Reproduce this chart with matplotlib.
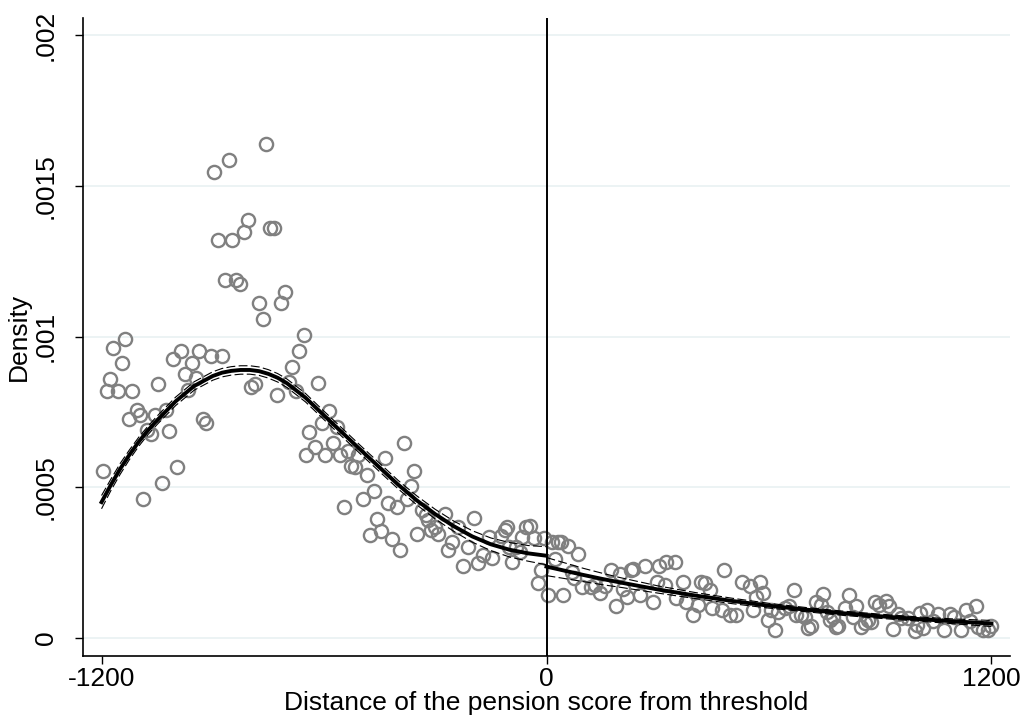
import matplotlib
matplotlib.use("Agg")
import matplotlib.pyplot as plt

plt.rcParams['font.family'] = ['Liberation Sans', 'DejaVu Sans']

# Binned density points (bin midpoint, density)
bin_x = [-1197, -1186, -1176, -1168, -1155, -1146, -1137, -1127, -1117, -1105, -1096, -1087,
         -1077, -1066, -1056, -1047, -1038, -1026, -1017, -1006, -997, -986, -975, -966, -957,
         -945, -936, -926, -917, -905, -896, -887, -876, -868, -857, -847, -837, -827, -816,
         -806, -797, -786, -776, -765, -757, -746, -736, -726, -716, -706, -694, -686, -676,
         -667, -655, -648, -640, -624, -616, -606, -597, -586, -576, -566, -557, -547, -535,
         -526, -517, -508, -496, -485, -476, -465, -456, -445, -436, -427, -417, -404, -395,
         -385, -377, -365, -358, -349, -337, -326, -319, -312, -301, -292, -275, -265, -256,
         -238, -225, -211, -195, -186, -171, -154, -146, -123, -112, -106, -100, -93, -81,
         -72, -65, -54, -45, -34, -23, -14, -6,
         5, 14, 22, 31, 40, 45, 57, 70, 74, 85, 95, 121, 130, 144, 157, 175, 187, 198, 206,
         216, 229, 233, 251, 265, 287, 297, 304, 319, 323, 346, 350, 367, 377, 395, 409, 418,
         427, 440, 445, 472, 480, 494, 512, 526, 548, 557, 566, 575, 584, 597, 606, 615, 624,
         642, 654, 667, 674, 687, 696, 705, 714, 728, 741, 745, 756, 765, 773, 782, 786, 804,
         816, 826, 836, 849, 858, 867, 876, 885, 898, 916, 925, 934, 947, 957, 975, 993, 998,
         1006, 1015, 1026, 1042, 1055, 1073, 1087, 1100, 1117, 1132, 1141, 1157, 1163, 1177,
         1190, 1199]
bin_density = [0.000554, 0.000819, 0.000860, 0.000963, 0.000819, 0.000912, 0.000991, 0.000726,
               0.000819, 0.000756, 0.000739, 0.000460, 0.000689, 0.000676, 0.000739, 0.000844,
               0.000514, 0.000757, 0.000687, 0.000925, 0.000567, 0.000952, 0.000875, 0.000822,
               0.000912, 0.000861, 0.000951, 0.000726, 0.000714, 0.000937, 0.001545, 0.001322,
               0.000937, 0.001188, 0.001586, 0.001322, 0.001189, 0.001176, 0.001348, 0.001388,
               0.000833, 0.000844, 0.001110, 0.001057, 0.001639, 0.001362, 0.001362, 0.000806,
               0.001110, 0.001149, 0.000849, 0.000898, 0.000820, 0.000951, 0.001005, 0.000608,
               0.000684, 0.000634, 0.000845, 0.000713, 0.000607, 0.000753, 0.000647, 0.000698,
               0.000606, 0.000435, 0.000621, 0.000570, 0.000567, 0.000606, 0.000459, 0.000540,
               0.000342, 0.000487, 0.000394, 0.000355, 0.000595, 0.000448, 0.000328, 0.000435,
               0.000291, 0.000647, 0.000459, 0.000503, 0.000554, 0.000344, 0.000424, 0.000407,
               0.000390, 0.000357, 0.000368, 0.000344, 0.000410, 0.000291, 0.000318, 0.000368,
               0.000238, 0.000302, 0.000396, 0.000249, 0.000274, 0.000334, 0.000266, 0.000339,
               0.000357, 0.000369, 0.000302, 0.000252, 0.000302, 0.000285, 0.000335, 0.000367,
               0.000370, 0.000330, 0.000182, 0.000224, 0.000330,
               0.000143, 0.000318, 0.000261, 0.000318, 0.000318, 0.000143, 0.000303, 0.000219,
               0.000197, 0.000277, 0.000169, 0.000169, 0.000174, 0.000147, 0.000171, 0.000224,
               0.000106, 0.000213, 0.000163, 0.000134, 0.000224, 0.000227, 0.000141, 0.000238,
               0.000119, 0.000185, 0.000238, 0.000174, 0.000252, 0.000252, 0.000130, 0.000185,
               0.000119, 0.000075, 0.000108, 0.000185, 0.000180, 0.000158, 0.000097, 0.000091,
               0.000224, 0.000075, 0.000075, 0.000185, 0.000171, 0.000091, 0.000135, 0.000185,
               0.000147, 0.000058, 0.000091, 0.000025, 0.000086, 0.000097, 0.000105, 0.000158,
               0.000075, 0.000075, 0.000069, 0.000032, 0.000038, 0.000119, 0.000108, 0.000145,
               0.000086, 0.000058, 0.000069, 0.000036, 0.000038, 0.000097, 0.000143, 0.000069,
               0.000105, 0.000036, 0.000047, 0.000058, 0.000052, 0.000119, 0.000110, 0.000121,
               0.000106, 0.000030, 0.000080, 0.000064, 0.000066, 0.000022, 0.000042, 0.000083,
               0.000032, 0.000091, 0.000055, 0.000078, 0.000025, 0.000078, 0.000069, 0.000025,
               0.000091, 0.000055, 0.000106, 0.000036, 0.000025, 0.000025, 0.000040]

# Local linear density fit, left of threshold
left_x = [-1200, -1175, -1150, -1125, -1100, -1075, -1050, -1000, -950, -900, -875, -850, -825,
          -800, -775, -750, -725, -700, -650, -600, -550, -500, -450, -400, -350, -300, -250,
          -200, -150, -100, -50, 0]
left_fit = [0.000450, 0.000507, 0.000560, 0.000607, 0.000650, 0.000688, 0.000722, 0.000785,
            0.000836, 0.000869, 0.000880, 0.000886, 0.000889, 0.000889, 0.000885, 0.000876,
            0.000863, 0.000845, 0.000797, 0.000738, 0.000680, 0.000622, 0.000565, 0.000508,
            0.000456, 0.000410, 0.000370, 0.000336, 0.000310, 0.000292, 0.000280, 0.000272]
left_lo = [0.000428, 0.000488, 0.000542, 0.000591, 0.000635, 0.000674, 0.000708, 0.000771,
           0.000822, 0.000855, 0.000866, 0.000872, 0.000875, 0.000875, 0.000871, 0.000862,
           0.000849, 0.000831, 0.000783, 0.000724, 0.000666, 0.000608, 0.000551, 0.000494,
           0.000441, 0.000394, 0.000353, 0.000317, 0.000289, 0.000268, 0.000254, 0.000242]
left_hi = [0.000472, 0.000526, 0.000578, 0.000623, 0.000665, 0.000702, 0.000736, 0.000799,
           0.000850, 0.000883, 0.000894, 0.000900, 0.000903, 0.000903, 0.000899, 0.000890,
           0.000877, 0.000859, 0.000811, 0.000752, 0.000694, 0.000636, 0.000579, 0.000522,
           0.000471, 0.000426, 0.000387, 0.000355, 0.000331, 0.000316, 0.000306, 0.000302]

# Local linear density fit, right of threshold
right_x = [0, 50, 100, 150, 200, 300, 400, 500, 600, 700, 800, 900, 1000, 1100, 1200]
right_fit = [0.000236, 0.000222, 0.000208, 0.000195, 0.000183, 0.000160, 0.000140, 0.000122,
             0.000106, 0.000093, 0.000081, 0.000071, 0.000062, 0.000054, 0.000047]
right_lo = [0.000206, 0.000196, 0.000186, 0.000176, 0.000167, 0.000148, 0.000130, 0.000113,
            0.000098, 0.000086, 0.000074, 0.000064, 0.000055, 0.000046, 0.000037]
right_hi = [0.000266, 0.000248, 0.000230, 0.000214, 0.000199, 0.000172, 0.000150, 0.000131,
            0.000114, 0.000100, 0.000088, 0.000078, 0.000069, 0.000062, 0.000057]

x_ticks = [-1200, 0, 1200]
x_tick_labels = ["-1200", "0", "1200"]
y_ticks = [0, 0.0005, 0.001, 0.0015, 0.002]
y_tick_labels = ["0", ".0005", ".001", ".0015", ".002"]

fig = plt.figure(figsize=(10.24, 7.25), dpi=100)
ax = fig.add_axes([83/1024, 1-656/725, (1010-83)/1024, (656-18)/725])

for yv in y_ticks:
    ax.axhline(yv, color='#eaf2f3', lw=1.3, zorder=0)

ax.plot(bin_x, bin_density, linestyle='none', marker='o', markersize=9.5,
        markerfacecolor='none', markeredgecolor='#808080', markeredgewidth=1.7, zorder=2)

for xs, fit, lo, hi in [(left_x, left_fit, left_lo, left_hi),
                        (right_x, right_fit, right_lo, right_hi)]:
    ax.plot(xs, lo, color='black', lw=0.8, dashes=(8, 3), zorder=3)
    ax.plot(xs, hi, color='black', lw=0.8, dashes=(8, 3), zorder=3)
    ax.plot(xs, fit, color='black', lw=2.8, zorder=4, solid_joinstyle='round')

ax.axvline(0, color='black', lw=1.4, zorder=5)

ax.set_xlim(-1250, 1250)
ax.set_ylim(-0.0000610, 0.002058)
ax.set_xticks(x_ticks)
ax.set_xticklabels(x_tick_labels)
ax.set_yticks(y_ticks)
ax.set_yticklabels(y_tick_labels, rotation=90, va='center')
ax.tick_params(axis='both', labelsize=19, length=6, width=1, direction='out')
ax.tick_params(axis='y', pad=12)
ax.tick_params(axis='x', pad=2)
ax.spines['top'].set_visible(False)
ax.spines['right'].set_visible(False)
ax.spines['left'].set_linewidth(1.2)
ax.spines['bottom'].set_linewidth(1.2)
ax.set_xlabel("Distance of the pension score from threshold", fontsize=19, labelpad=0)
ax.set_ylabel("Density", fontsize=19, labelpad=2)

fig.savefig("out.png", dpi=100)
